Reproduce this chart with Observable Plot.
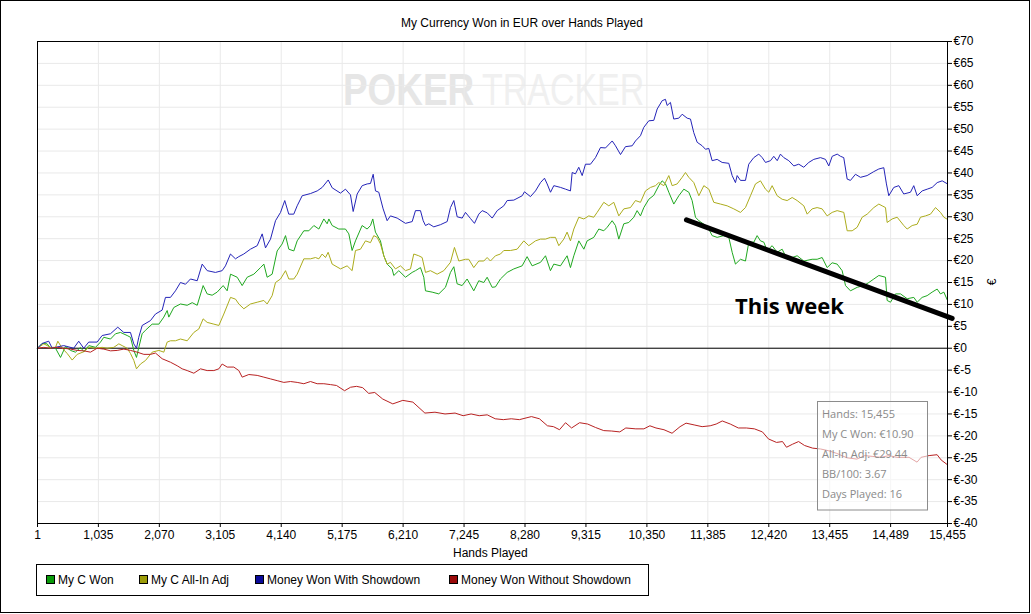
<!DOCTYPE html>
<html><head><meta charset="utf-8">
<script src="https://cdn.jsdelivr.net/npm/d3@7"></script>
<script src="https://cdn.jsdelivr.net/npm/@observablehq/plot@0.6"></script>
<style>
body{margin:0;background:#fff;}
#wrap{position:relative;width:1031px;height:614px;overflow:hidden;background:#fff;}
#wrap > *{position:absolute;left:0;top:0;}
</style></head><body>
<div id="wrap">
<svg id="wm" width="1031" height="614">
  <text transform="translate(343,105) scale(0.82,1)" font-family="Liberation Sans" font-weight="bold" font-size="45" fill="#e6e6e6">POKER</text>
  <text transform="translate(482,105) scale(0.755,1)" font-family="Liberation Sans" font-size="45" fill="#f0f0f0">TRACKER</text>
</svg>
<div id="chart"></div>
<svg id="over" width="1031" height="614"></svg>
</div>
<script>
const title = "My Currency Won in EUR over Hands Played";
const xLabel = "Hands Played";
const yLabel = "€";
const seriesNames = ["My C Won", "My C All-In Adj", "Money Won With Showdown", "Money Won Without Showdown"];
const xTicks = [1, 1035, 2070, 3105, 4140, 5175, 6210, 7245, 8280, 9315, 10350, 11385, 12420, 13455, 14489, 15455];
const yTicks = [-40,-35,-30,-25,-20,-15,-10,-5,0,5,10,15,20,25,30,35,40,45,50,55,60,65,70];
const infoLines = ["Hands: 15,455", "My C Won: €10.90", "All-In Adj: €29.44", "BB/100: 3.67", "Days Played: 16"];
const noteText = "This week";
const noteHands = [12771];
const noteValues = [9.5];
const trendHands = [11022, 15534];
const trendValues = [29.3, 6.8];

// [hands, EUR]
const myCWon = [[1,0],[80,1.1],[165,1.0],[222,0],[307,0],[392,-2.1],[476,0.4],[561,-0.5],[646,-0.9],[731,0.2],[788,-0.8],[873,0.6],[986,0.2],[1071,1.4],[1127,2.5],[1241,2.1],[1326,3.3],[1410,3.6],[1524,2.9],[1580,2.5],[1637,-0.5],[1682,-2.1],[1722,0.2],[1778,3.3],[1835,4.1],[1948,5.5],[2062,5.5],[2146,7.1],[2203,8.6],[2231,7.1],[2316,9.3],[2429,10.1],[2543,9.8],[2628,10.4],[2713,9.8],[2814,14.3],[2882,12.4],[2967,12.1],[3052,12.8],[3154,14.3],[3222,13.1],[3279,16.9],[3392,16.2],[3477,14.3],[3562,16.2],[3675,16.9],[3788,18.4],[3845,19.2],[3901,16.2],[3986,16.9],[4071,22.2],[4156,23.8],[4213,25.7],[4269,22.6],[4354,22.2],[4411,24.5],[4524,26.8],[4609,26.8],[4694,28.0],[4779,27.2],[4864,29.5],[4920,28.4],[4949,29.5],[5005,28.0],[5118,27.2],[5231,27.2],[5288,26.1],[5344,22.3],[5401,24.5],[5514,28.0],[5599,27.2],[5656,28.0],[5695,29.5],[5740,26.5],[5825,24.5],[5882,21.1],[5939,19.2],[6023,18.1],[6052,16.6],[6137,17.7],[6250,16.2],[6363,17.3],[6420,17.7],[6505,18.4],[6561,16.2],[6590,13.1],[6703,12.8],[6816,12.4],[6929,13.9],[7014,17.3],[7071,18.6],[7127,14.7],[7212,14.3],[7297,15.8],[7410,13.1],[7495,15.4],[7580,15.0],[7637,16.2],[7722,13.9],[7778,14.0],[7863,15.8],[7977,17.3],[8090,18.1],[8231,18.8],[8316,20.9],[8401,18.8],[8543,19.6],[8628,21.1],[8712,17.7],[8769,19.2],[8882,18.8],[8995,21.1],[9052,18.4],[9109,21.1],[9194,24.5],[9279,22.6],[9335,24.5],[9448,25.3],[9533,27.2],[9618,26.8],[9675,27.6],[9760,29.1],[9816,28.0],[9873,24.9],[9958,28.4],[10043,28.7],[10128,29.9],[10184,31.4],[10241,30.2],[10298,32.1],[10383,34.0],[10467,34.9],[10552,37.1],[10609,38.2],[10666,37.5],[10722,35.6],[10807,32.9],[10892,34.8],[10977,36.3],[11062,35.6],[11118,33.7],[11175,29.9],[11232,29.1],[11317,28.3],[11402,27.2],[11458,25.7],[11543,25.3],[11656,25.7],[11741,25.3],[11798,21.9],[11854,19.2],[11939,20.3],[12024,19.9],[12081,24.2],[12166,24.2],[12222,25.7],[12279,24.5],[12336,24.2],[12392,22.3],[12477,23.4],[12562,21.9],[12647,22.6],[12732,20.3],[12817,20.7],[12902,21.1],[13015,19.9],[13156,20.3],[13241,20.3],[13326,20.7],[13411,18.4],[13496,19.5],[13581,19.2],[13666,17.7],[13723,14.3],[13807,13.1],[13921,13.9],[14034,14.3],[14119,15.0],[14204,15.8],[14289,16.6],[14402,16.2],[14430,10.9],[14487,10.5],[14572,12.4],[14657,12.4],[14770,11.3],[14883,11.6],[14940,10.5],[15024,11.6],[15109,12.0],[15194,12.8],[15279,13.5],[15336,12.4],[15393,12.8],[15455,10.9]];

const myCAllInAdj = [[1,0],[108,1.0],[222,0.2],[307,0.2],[346,1.6],[420,0],[505,-1.2],[590,-2.7],[675,-1.4],[788,-0.8],[873,0.2],[986,0],[1099,0.2],[1184,0],[1297,0.2],[1382,1.0],[1439,0.6],[1524,0],[1580,-1.2],[1637,-2.8],[1682,-4.7],[1750,-3.6],[1835,-2.8],[1948,-0.9],[2062,-0.5],[2146,-0.9],[2203,1.4],[2260,1.7],[2344,1.7],[2429,2.1],[2543,1.7],[2656,3.6],[2741,4.4],[2814,6.7],[2882,5.9],[2996,5.5],[3081,5.2],[3165,7.8],[3279,11.6],[3364,11.2],[3420,10.1],[3505,9.0],[3618,10.1],[3732,10.5],[3845,10.9],[3901,10.1],[3986,12.0],[4043,15.0],[4128,15.8],[4213,17.7],[4269,15.8],[4354,15.8],[4411,16.9],[4524,20.4],[4637,20.4],[4722,20.7],[4779,20.4],[4835,21.5],[4892,20.7],[4937,21.9],[5005,19.2],[5147,18.1],[5259,18.8],[5344,17.7],[5401,22.3],[5486,22.6],[5571,24.5],[5656,24.1],[5712,25.7],[5769,25.3],[5825,23.8],[5882,21.1],[5939,19.2],[5995,19.6],[6080,18.1],[6165,18.8],[6250,17.7],[6335,18.1],[6391,21.5],[6476,21.1],[6533,20.7],[6590,17.3],[6674,17.7],[6788,16.9],[6901,17.7],[7014,19.6],[7082,23.0],[7156,19.9],[7269,20.3],[7325,20.3],[7410,18.4],[7495,19.9],[7580,19.9],[7637,20.7],[7693,19.9],[7778,21.1],[7863,21.5],[7920,22.3],[8033,22.3],[8146,22.6],[8260,24.5],[8344,23.4],[8458,24.5],[8543,24.9],[8628,24.9],[8712,25.3],[8797,25.3],[8854,23.4],[8939,24.9],[8995,26.5],[9052,24.5],[9109,27.2],[9194,29.9],[9279,29.5],[9363,30.2],[9448,29.9],[9505,31.0],[9618,33.3],[9703,32.5],[9788,33.3],[9873,30.2],[9958,31.8],[10071,32.1],[10156,33.7],[10241,33.3],[10326,35.9],[10411,36.7],[10496,37.1],[10552,37.8],[10637,37.1],[10722,39.4],[10779,37.1],[10864,37.5],[10949,39.0],[11005,40.1],[11062,39.0],[11147,37.8],[11232,34.8],[11317,37.1],[11402,36.3],[11486,33.3],[11600,32.9],[11713,32.5],[11826,31.8],[11939,31.0],[12024,32.1],[12109,34.8],[12194,37.5],[12279,38.2],[12364,36.3],[12420,35.6],[12477,37.1],[12562,34.8],[12647,34.0],[12732,33.7],[12817,34.4],[12902,33.7],[13015,32.5],[13072,30.6],[13156,31.8],[13241,32.1],[13326,31.8],[13411,30.2],[13496,31.0],[13581,31.4],[13694,31.0],[13751,26.8],[13836,26.8],[13921,27.6],[14006,29.9],[14091,30.6],[14204,32.1],[14289,32.9],[14345,32.5],[14402,32.1],[14430,28.7],[14515,29.5],[14600,29.9],[14713,28.0],[14770,27.2],[14855,28.0],[14940,28.3],[14996,29.9],[15081,30.2],[15166,30.6],[15251,32.1],[15336,31.0],[15393,29.9],[15455,29.4]];

const withShowdown = [[1,0],[81,1.1],[192,1.6],[250,0],[335,0.3],[447,0.6],[616,0],[701,1.6],[786,0],[871,1.4],[1014,1.4],[1099,2.9],[1240,3.3],[1364,4.8],[1466,3.6],[1580,3.6],[1636,1.0],[1682,0],[1721,2.5],[1779,5.2],[1919,6.3],[2004,7.8],[2118,8.7],[2174,11.6],[2259,11.6],[2344,13.1],[2429,15.0],[2514,14.6],[2599,15.8],[2713,15.4],[2798,19.2],[2883,17.7],[3023,17.3],[3137,17.7],[3193,18.8],[3278,21.5],[3363,20.4],[3419,20.9],[3504,21.5],[3617,22.6],[3732,23.4],[3817,26.1],[3873,22.9],[3958,24.9],[4043,29.1],[4128,31.0],[4200,33.7],[4268,30.6],[4353,30.6],[4411,32.5],[4496,34.8],[4637,35.3],[4751,35.9],[4836,36.7],[4938,38.4],[5006,36.6],[5146,35.4],[5231,36.3],[5316,35.0],[5362,31.2],[5430,35.2],[5515,37.1],[5600,37.5],[5656,37.6],[5702,39.7],[5741,35.9],[5797,35.6],[5871,31.8],[5939,29.1],[5995,30.2],[6109,29.7],[6250,28.5],[6364,28.9],[6420,31.4],[6505,31.4],[6551,29.1],[6590,28.0],[6646,28.4],[6731,27.7],[6845,28.2],[6958,28.9],[7014,32.1],[7071,33.7],[7128,30.0],[7213,29.7],[7269,31.0],[7354,29.6],[7422,28.5],[7495,30.6],[7553,31.4],[7638,30.9],[7723,29.7],[7808,31.4],[7920,32.5],[7977,33.7],[8090,33.8],[8232,34.8],[8271,35.7],[8373,34.6],[8458,35.9],[8543,37.8],[8611,38.8],[8656,37.5],[8713,35.6],[8769,37.1],[8883,36.7],[8968,36.3],[9052,35.9],[9081,40.1],[9137,39.8],[9193,41.3],[9251,39.4],[9307,42.0],[9392,42.0],[9477,43.5],[9562,45.8],[9647,45.7],[9761,47.3],[9817,46.2],[9902,44.2],[9986,46.0],[10100,46.2],[10156,47.3],[10241,48.5],[10297,50.4],[10382,51.9],[10467,52.0],[10525,54.6],[10610,56.5],[10665,56.8],[10694,55.4],[10750,56.1],[10806,52.3],[10891,52.5],[10949,53.4],[11034,52.5],[11090,52.3],[11146,49.2],[11204,47.0],[11289,46.2],[11345,45.4],[11401,45.6],[11458,42.8],[11543,43.1],[11628,42.4],[11741,42.2],[11798,39.4],[11854,37.8],[11883,39.4],[11939,38.3],[12024,38.3],[12080,42.0],[12165,43.5],[12250,44.3],[12308,43.5],[12364,42.4],[12449,42.8],[12505,43.8],[12563,42.8],[12618,44.3],[12675,43.5],[12760,42.8],[12845,41.6],[12929,42.0],[13014,41.3],[13099,42.4],[13184,43.1],[13298,43.5],[13383,43.1],[13439,41.6],[13497,43.8],[13582,44.3],[13638,43.8],[13693,43.5],[13751,38.6],[13807,38.3],[13892,39.7],[13977,39.0],[14090,39.4],[14203,40.3],[14288,40.9],[14373,41.2],[14418,37.5],[14458,34.8],[14543,36.7],[14628,37.1],[14712,35.2],[14826,35.6],[14882,37.1],[14940,34.8],[15025,35.9],[15110,36.3],[15194,36.7],[15280,37.8],[15365,38.2],[15455,37.5]];

const withoutShowdown = [[1,0],[108,0.2],[222,0],[335,0.2],[448,0],[561,-0.2],[675,-0.5],[788,-0.6],[901,-0.9],[1014,0],[1127,-0.2],[1241,-0.6],[1354,-0.5],[1467,-0.2],[1580,-0.5],[1694,-0.9],[1807,-1.4],[1920,-1.4],[2005,-1.1],[2118,-2.4],[2260,-3.2],[2373,-4.0],[2458,-4.7],[2543,-5.1],[2656,-5.7],[2769,-4.7],[2882,-5.1],[2996,-5.1],[3081,-4.7],[3137,-3.6],[3222,-4.3],[3335,-4.3],[3420,-5.1],[3477,-6.6],[3590,-6.0],[3732,-6.2],[3845,-6.6],[3958,-7.0],[4071,-7.4],[4184,-7.8],[4298,-7.6],[4411,-7.8],[4524,-8.1],[4637,-7.6],[4750,-8.1],[4864,-8.1],[4977,-8.3],[5079,-8.5],[5216,-9.7],[5318,-8.9],[5420,-8.7],[5523,-9.0],[5625,-10.3],[5728,-10.1],[5864,-11.6],[6035,-12.7],[6205,-11.9],[6376,-12.3],[6580,-14.8],[6751,-14.6],[6922,-15.0],[7092,-14.8],[7229,-15.4],[7365,-15.0],[7502,-15.4],[7638,-15.2],[7774,-16.1],[7911,-16.3],[8047,-16.1],[8184,-16.3],[8389,-15.6],[8525,-16.1],[8661,-17.7],[8764,-17.9],[8866,-18.6],[8968,-17.0],[9071,-18.2],[9207,-17.0],[9344,-17.3],[9480,-18.1],[9617,-18.8],[9753,-18.9],[9890,-19.1],[9992,-18.2],[10162,-18.4],[10299,-18.4],[10401,-17.7],[10504,-18.2],[10640,-18.6],[10777,-19.4],[10913,-17.9],[11015,-17.1],[11152,-17.5],[11288,-17.9],[11425,-17.7],[11527,-17.3],[11630,-16.6],[11766,-17.3],[11903,-18.2],[12039,-18.2],[12176,-18.4],[12312,-19.1],[12414,-20.7],[12551,-21.5],[12653,-21.3],[12721,-22.6],[12824,-21.9],[12926,-21.3],[13028,-22.2],[13165,-22.8],[13301,-23.0],[13438,-23.4],[13574,-24.0],[13745,-25.0],[13915,-25.3],[14052,-24.5],[14188,-24.7],[14325,-24.9],[14461,-24.5],[14597,-24.9],[14802,-24.9],[14938,-26.0],[15006,-24.9],[15143,-24.5],[15279,-24.3],[15347,-25.5],[15455,-26.6]];

const lineColors = ["#1fa81f", "#acac1c", "#2424b8", "#b82222"];
const swatchColors = ["#0a9a0a", "#9c9c08", "#0a0a9a", "#9a0a0a"];
const series = [myCWon, myCAllInAdj, withShowdown, withoutShowdown];

const chart = Plot.plot({
  width: 1031, height: 614,
  marginLeft: 37, marginRight: 84, marginTop: 41, marginBottom: 91,
  style: {fontFamily: "Liberation Sans", fontSize: "12px", background: "transparent", color: "black", overflow: "visible"},
  x: {domain: [1, 15455]},
  y: {domain: [-40, 70]},
  marks: [
    Plot.gridX(xTicks, {stroke: "#e9e9e9", strokeOpacity: 1}),
    Plot.gridY(yTicks, {stroke: "#e9e9e9", strokeOpacity: 1}),
    Plot.ruleY([0], {stroke: "black", strokeWidth: 1}),
    ...series.map((s, i) => Plot.line(s, {x: d => d[0], y: d => d[1], stroke: lineColors[i], strokeWidth: 1})),
    Plot.line(trendHands.map((h, i) => [h, trendValues[i]]), {x: d => d[0], y: d => d[1], stroke: "black", strokeWidth: 5, strokeLinecap: "round"}),
    Plot.text(noteHands.map((h, i) => [h, noteValues[i]]), {x: d => d[0], y: d => d[1], text: () => noteText, fontSize: 22, fontWeight: "bold", fontFamily: "Open Sans", fill: "black"}),
    Plot.frame({stroke: "black"}),
    Plot.axisX({ticks: xTicks, tickFormat: d3.format(","), tickSize: 4, tickPadding: 3, label: null}),
    Plot.axisY({anchor: "right", ticks: yTicks, tickFormat: d => "€" + d, tickSize: 4, tickPadding: 2, label: null})
  ]
});
document.getElementById("chart").appendChild(chart);

// overlay: title, labels, legend, info box, border
const ov = d3.select("#over");
ov.append("rect").attr("x", 0.5).attr("y", 0.5).attr("width", 1029).attr("height", 612).attr("fill", "none").attr("stroke", "black");
ov.append("text").attr("x", 401).attr("y", 27).attr("font-family", "Liberation Sans").attr("font-size", 12).text(title);
ov.append("text").attr("x", 453).attr("y", 557).attr("font-family", "Liberation Sans").attr("font-size", 12).text(xLabel);
ov.append("text").attr("transform", "translate(996,282) rotate(-90)").attr("text-anchor", "middle").attr("font-family", "Liberation Sans").attr("font-size", 12).text(yLabel);
ov.append("rect").attr("x", 36.5).attr("y", 564.5).attr("width", 612).attr("height", 31).attr("fill", "white").attr("stroke", "black");
const legX = [46, 139, 255, 449];
seriesNames.forEach((n, i) => {
  ov.append("rect").attr("x", legX[i] + 0.5).attr("y", 575.5).attr("width", 8).attr("height", 8).attr("fill", swatchColors[i]).attr("stroke", "black");
  ov.append("text").attr("x", legX[i] + 12).attr("y", 584).attr("font-family", "Liberation Sans").attr("font-size", 12).text(n);
});
ov.append("rect").attr("x", 817.5).attr("y", 401.5).attr("width", 110).attr("height", 108.5).attr("fill", "white").attr("fill-opacity", 0.6).attr("stroke", "#8c8c8c");
infoLines.forEach((t, i) => {
  ov.append("text").attr("x", 822).attr("y", 418 + 20 * i).attr("font-family", "Open Sans").attr("font-size", 11).attr("fill", "#8a8a8a").text(t);
});
</script>
</body></html>
